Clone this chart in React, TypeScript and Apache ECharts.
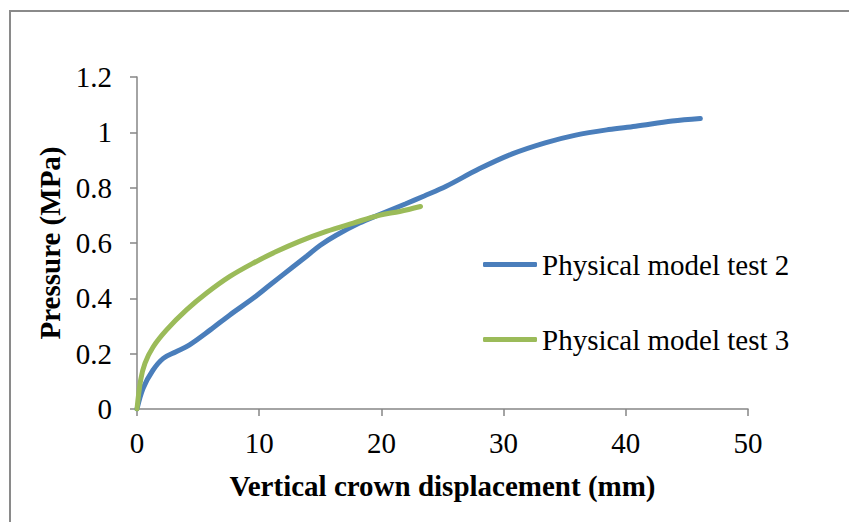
import React, { useEffect, useRef } from "react";
import * as echarts from "echarts";

const seriesNames = ["Physical model test 2", "Physical model test 3"];

const test2X = [0, 0.5, 1.3, 2.15, 3.2, 4.3, 6.0, 7.6, 9.5, 10.9, 12.8, 13.9, 15.0, 16.3, 18.2, 19.8, 22.0, 23.5, 25.3, 28.0, 30.7, 33.4, 35.9, 38.6, 40.8, 43.8, 46.1];
const test2Y = [0, 0.075, 0.14, 0.183, 0.207, 0.232, 0.286, 0.34, 0.4, 0.449, 0.515, 0.553, 0.592, 0.628, 0.672, 0.702, 0.742, 0.77, 0.805, 0.868, 0.922, 0.962, 0.99, 1.01, 1.022, 1.041, 1.05];

const test3X = [0, 0.3, 0.65, 1.33, 2.42, 4.05, 5.7, 7.6, 9.5, 11.4, 13.3, 15.5, 17.7, 19.8, 21.5, 23.2];
const test3Y = [0, 0.105, 0.165, 0.225, 0.286, 0.358, 0.419, 0.479, 0.527, 0.569, 0.606, 0.642, 0.672, 0.7, 0.714, 0.732];

const xTicks = { min: 0, max: 50, interval: 10 };
const yTicks = { min: 0, max: 1.2, interval: 0.2 };

const colors = ["#4A7EBB", "#9BBB59"];

function pairs(xs: number[], ys: number[]) {
  return xs.map((x, i) => [x, ys[i]]);
}

export default function App() {
  const ref = useRef<HTMLDivElement>(null);
  useEffect(() => {
    if (!ref.current) return;
    const chart = echarts.init(ref.current, null, { renderer: "svg" });
    const font = "'Liberation Serif', 'Times New Roman', serif";
    const axisColor = "#868686";
    chart.setOption({
      animation: false,
      backgroundColor: "#ffffff",
      textStyle: { fontFamily: font, color: "#000" },
      graphic: [
        {
          type: "rect",
          shape: { x: 10, y: 11, width: 900, height: 600 },
          style: { fill: "none", stroke: "#8a8a8a", lineWidth: 2 },
          silent: true,
        },
      ],
      grid: { left: 137, right: 101, top: 77, bottom: 113, containLabel: false },
      legend: {
        orient: "vertical",
        left: 483,
        top: 248,
        padding: 0,
        itemWidth: 54,
        itemHeight: 5,
        itemGap: 42,
        textStyle: { fontFamily: font, fontSize: 29, lineHeight: 33, color: "#000" },
        data: seriesNames.map((n, i) => ({
          name: n,
          icon: "roundRect",
          itemStyle: { color: colors[i] },
        })),
        itemStyle: { borderWidth: 0 },
        selectedMode: false,
      },
      xAxis: {
        type: "value",
        min: xTicks.min,
        max: xTicks.max,
        interval: xTicks.interval,
        name: "Vertical crown displacement (mm)",
        nameLocation: "middle",
        nameGap: 62,
        nameTextStyle: { fontFamily: font, fontSize: 29, fontWeight: "bold", color: "#000" },
        axisLine: { show: true, lineStyle: { color: axisColor, width: 1.5 } },
        axisTick: { show: true, length: 7, lineStyle: { color: axisColor, width: 1.5 } },
        axisLabel: { fontFamily: font, fontSize: 29, color: "#000", margin: 19 },
        splitLine: { show: false },
      },
      yAxis: {
        type: "value",
        min: yTicks.min,
        max: yTicks.max,
        interval: yTicks.interval,
        name: "Pressure (MPa)",
        nameLocation: "middle",
        nameGap: 70,
        nameRotate: 90,
        nameTextStyle: { fontFamily: font, fontSize: 29, fontWeight: "bold", color: "#000" },
        axisLine: { show: true, lineStyle: { color: axisColor, width: 1.5 } },
        axisTick: { show: true, length: 7, lineStyle: { color: axisColor, width: 1.5 } },
        axisLabel: {
          fontFamily: font,
          fontSize: 29,
          color: "#000",
          margin: 25,
          formatter: (v: number) => String(Math.round(v * 10) / 10),
        },
        splitLine: { show: false },
      },
      series: [
        {
          name: seriesNames[0],
          type: "line",
          data: pairs(test2X, test2Y),
          smooth: 0.35,
          showSymbol: false,
          symbol: "none",
          lineStyle: { color: colors[0], width: 5, cap: "round" },
          itemStyle: { color: colors[0] },
        },
        {
          name: seriesNames[1],
          type: "line",
          data: pairs(test3X, test3Y),
          smooth: 0.35,
          showSymbol: false,
          symbol: "none",
          lineStyle: { color: colors[1], width: 5, cap: "round" },
          itemStyle: { color: colors[1] },
        },
      ],
    });
    return () => chart.dispose();
  }, []);
  return (
    <div
      ref={ref}
      style={{ position: "absolute", left: 0, top: 0, width: 849, height: 522 }}
    />
  );
}
